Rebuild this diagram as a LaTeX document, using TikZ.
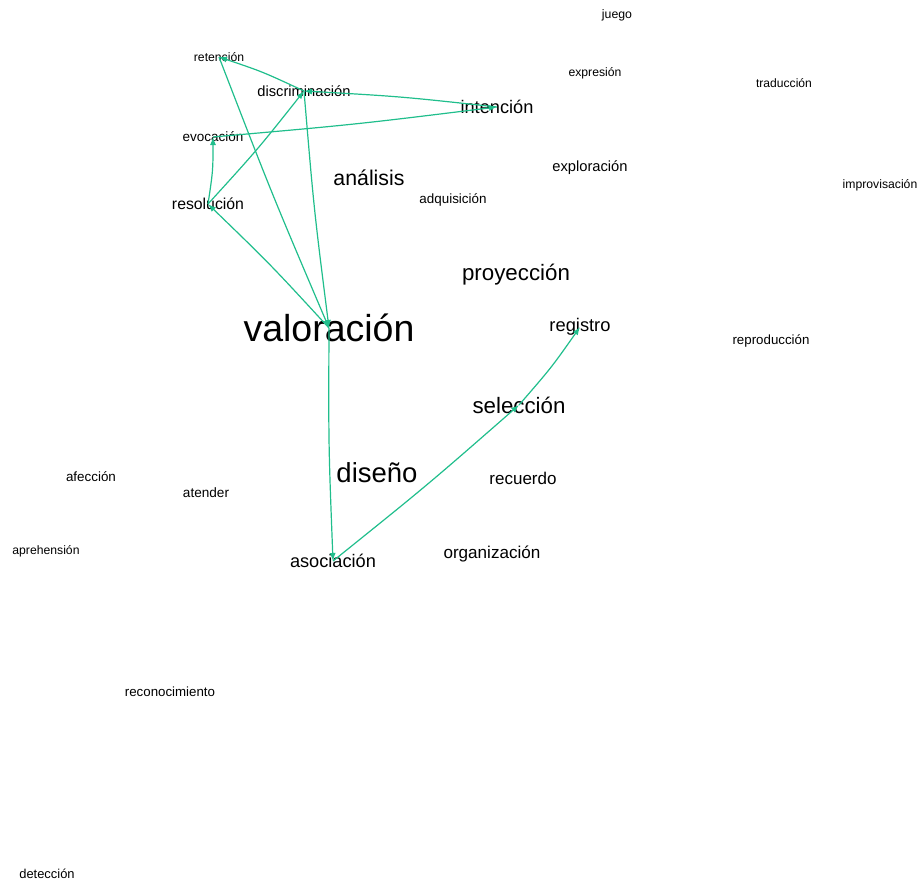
\documentclass[tikz,border=0pt]{standalone}
\usepackage{fontspec}
\setmainfont{Liberation Sans}
\usetikzlibrary{arrows.meta,calc}
\definecolor{linkgreen}{RGB}{32,190,140}
\tikzset{
  word/.style={inner sep=0pt, anchor=center, text=black},
  link/.style={draw=linkgreen, line width=1.2pt, -{Latex[length=8pt,width=6pt]}},
}
\newcommand{\fs}[1]{\fontsize{#1}{#1}\selectfont}
% a slightly bowed directed link from one term to another
\newcommand{\lnk}[2]{\draw[link] (#1.center) .. controls ($(#1.center)!0.5!(#2.center)!2.5pt!-90:(#2.center)$) .. (#2.center);}
\begin{document}
\begin{tikzpicture}[x=1pt,y=1pt]
\useasboundingbox (0,0) rectangle (921,-881);
% terms, sized by weight
\node[word] (juego)   at (617,-15)  {\fs{12.3}juego};
\node[word] (expr)    at (595,-73)  {\fs{12.2}expresión};
\node[word] (trad)    at (784,-83)  {\fs{12.1}traducción};
\node[word] (ret)     at (219,-57)  {\fs{12.2}retención};
\node[word] (disc)    at (304,-91)  {\fs{14.7}discriminación};
\node[word] (inte)    at (497,-107) {\fs{18.2}intención};
\node[word] (evo)     at (213,-137) {\fs{13.5}evocación};
\node[word] (expl)    at (590,-168) {\fs{14.7}exploración};
\node[word] (impr)    at (880,-185) {\fs{12.2}improvisación};
\node[word] (anal)    at (369,-178) {\fs{21.3}análisis};
\node[word] (adq)     at (453,-200) {\fs{13.4}adquisición};
\node[word] (reso)    at (208,-204) {\fs{15.8}resolución};
\node[word] (proy)    at (516,-275) {\fs{22.3}proyección};
\node[word] (val)     at (329,-328) {\fs{37.5}valoración};
\node[word] (reg)     at (580,-327) {\fs{18.3}registro};
\node[word] (repr)    at (771,-341) {\fs{13.3}reproducción};
\node[word] (sel)     at (519,-405) {\fs{22.3}selección};
\node[word] (dis)     at (377,-473) {\fs{27.5}diseño};
\node[word] (rec)     at (523,-478) {\fs{17}recuerdo};
\node[word] (afe)     at (91,-477)  {\fs{13.4}afección};
\node[word] (ate)     at (206,-493) {\fs{13.6}atender};
\node[word] (apr)     at (46,-551)  {\fs{12.2}aprehensión};
\node[word] (aso)     at (333,-561) {\fs{18.2}asociación};
\node[word] (org)     at (492,-554) {\fs{17.1}organización};
\node[word] (reco)    at (170,-692) {\fs{13.3}reconocimiento};
\node[word] (det)     at (47,-874)  {\fs{12.9}detección};
% directed links between terms
\lnk{disc}{ret}
\lnk{inte}{disc}
\lnk{evo}{inte}
\lnk{reso}{evo}
\lnk{reso}{disc}
\lnk{val}{reso}
\lnk{ret}{val}
\lnk{disc}{val}
\lnk{val}{aso}
\lnk{aso}{sel}
\lnk{sel}{reg}
\end{tikzpicture}
\end{document}
